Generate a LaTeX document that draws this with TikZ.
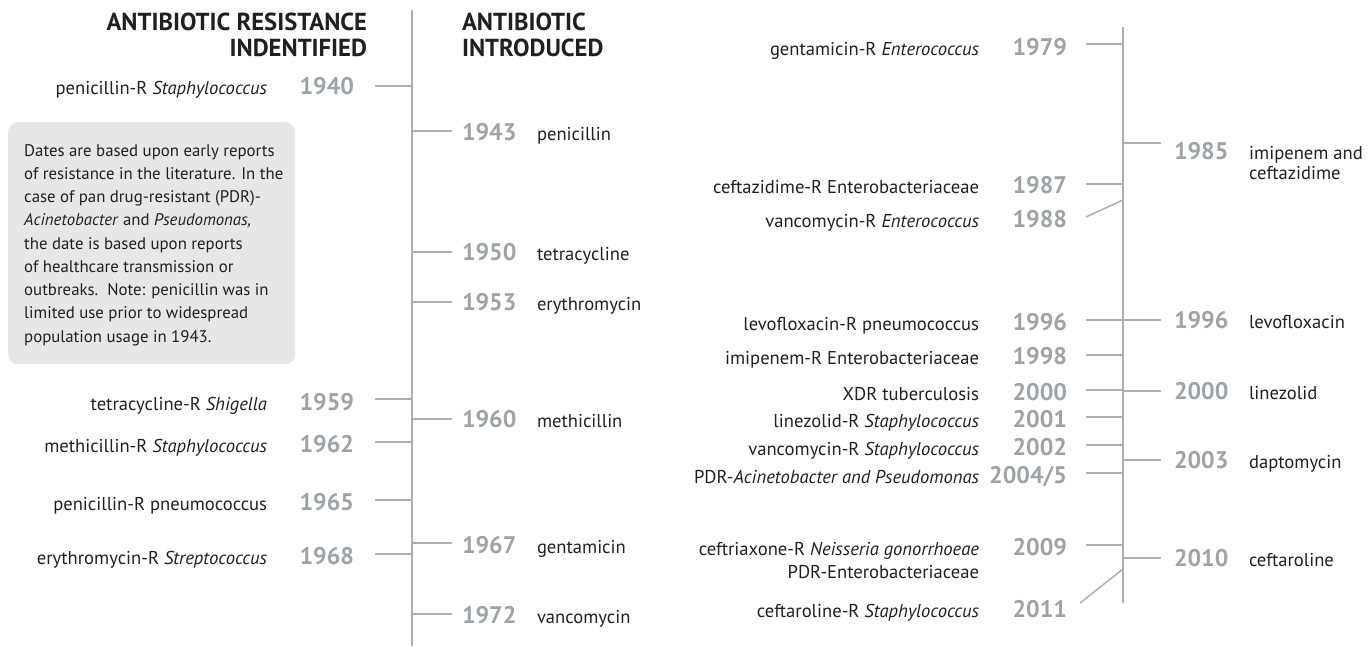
\documentclass[tikz,border=0pt]{standalone}
\usepackage{fontspec}
\setmainfont{PT Sans}
\definecolor{ink}{RGB}{35,31,32}
\definecolor{axgrey}{RGB}{168,175,183}
\definecolor{yrgrey}{RGB}{158,163,168}
\definecolor{notebg}{RGB}{229,231,233}
\tikzset{
  lbl/.style={font=\fontsize{18.6}{21}\selectfont, text=ink, inner sep=0pt, outer sep=0pt},
  yr/.style={font=\fontsize{24}{26}\selectfont\bfseries, text=yrgrey, inner sep=0pt, outer sep=0pt},
  head/.style={font=\fontsize{24.6}{26}\selectfont\bfseries, text=ink, inner sep=0pt, outer sep=0pt},
  axis/.style={draw=axgrey, line width=1.5pt},
  tickln/.style={draw=axgrey, line width=1.5pt},
}
\begin{document}
\begin{tikzpicture}[x=1pt,y=-1pt]
\useasboundingbox (0,0) rectangle (1370,646);
% axes
\coordinate (axLt) at (412,10);
\coordinate (axLb) at (412,646);
\coordinate (axRt) at (1123,27);
\coordinate (axRb) at (1123,603);
\draw[axis] (axLt) -- (axLb);
\draw[axis] (axRt) -- (axRb);
% headers
\node[head, anchor=north east, align=right] (hRes) at (367,13) {ANTIBIOTIC RESISTANCE\\INDENTIFIED};
\node[head, anchor=north west, align=left] (hInt) at (462,13) {ANTIBIOTIC\\INTRODUCED};
% note box
\node[fill=notebg, rounded corners=10pt, minimum width=287pt, minimum height=242pt, anchor=north west, inner sep=0pt] (notebox) at (8,122) {};
\node[font=\fontsize{16.8}{23.25}\selectfont, text=ink, anchor=north west, align=left, inner sep=0pt] (note) at (24,144) {Dates are based upon early reports\\of resistance in the literature. In the\\case of pan drug-resistant (PDR)-\\\textit{Acinetobacter} and \textit{Pseudomonas,}\\the date is based upon reports\\of healthcare transmission or\\outbreaks.\ \ Note: penicillin was in\\limited use prior to widespread\\population usage in 1943.};
% ---------- left column: resistance ----------
\foreach \yr/\bl/\ty/\txt in {
  1940/94/86/{penicillin-R \textit{Staphylococcus}},
  1959/410/399/{tetracycline-R \textit{Shigella}},
  1962/452/442/{methicillin-R \textit{Staphylococcus}},
  1965/510/500/{penicillin-R pneumococcus},
  1968/564/554/{erythromycin-R \textit{Streptococcus}}}{
  \node[yr, anchor=base east] (yL\yr) at (354,\bl) {\yr};
  \node[lbl, anchor=base east] (tL\yr) at (267,\bl) {\txt};
  \coordinate (cL\yr) at (375,\ty);
  \draw[tickln] (cL\yr) -- (cL\yr -| axLt);
}
% ---------- middle column: introduced ----------
\foreach \yr/\bl/\ty/\txt in {
  1943/140/131/penicillin,
  1950/260/252/tetracycline,
  1953/310/302/erythromycin,
  1960/427/419/methicillin,
  1967/553/543/gentamicin,
  1972/623/614/vancomycin}{
  \node[yr, anchor=base west] (yM\yr) at (462,\bl) {\yr};
  \node[lbl, anchor=base west] (tM\yr) at (537,\bl) {\txt};
  \coordinate (cM\yr) at (452,\ty);
  \draw[tickln] (cM\yr -| axLt) -- (cM\yr);
}
% ---------- right axis, left side: resistance ----------
\foreach \yr/\bl/\ty/\txt in {
  1979/55/44/{gentamicin-R \textit{Enterococcus}},
  1987/193/184/{ceftazidime-R Enterobacteriaceae},
  1996/330/320/{levofloxacin-R pneumococcus},
  1998/364/355/{imipenem-R Enterobacteriaceae},
  2000/400/390/{XDR tuberculosis},
  2001/427/417/{linezolid-R \textit{Staphylococcus}},
  2002/455/445/{vancomycin-R \textit{Staphylococcus}},
  2004/483/473/{PDR-\textit{Acinetobacter and Pseudomonas}},
  2009/555/545/{ceftriaxone-R \textit{Neisseria gonorrhoeae}}}{
  \coordinate (cR\yr) at (1086,\ty);
  \draw[tickln] (cR\yr) -- (cR\yr -| axRt);
  \node[lbl, anchor=base east] (tR\yr) at (979,\bl) {\txt};
}
\foreach \yr/\bl in {1979/55,1987/193,1996/330,1998/364,2000/400,2001/427,2002/455,2009/555}{
  \node[yr, anchor=base east] (yR\yr) at (1067,\bl) {\yr};
}
\node[yr, anchor=base east] (yR2004) at (1067,483) {2004/5};
\node[lbl, anchor=base east] (tR2009b) at (979,578) {PDR-Enterobacteriaceae};
% slanted ticks
\node[yr, anchor=base east] (yR1988) at (1067,227) {1988};
\node[lbl, anchor=base east] (tR1988) at (979,227) {vancomycin-R \textit{Enterococcus}};
\coordinate (s1988a) at (1086,217);
\coordinate (s1988b) at (1123,200);
\draw[tickln] (s1988a) -- (s1988b);
\node[yr, anchor=base east] (yR2011) at (1067,617) {2011};
\node[lbl, anchor=base east] (tR2011) at (979,617) {ceftaroline-R \textit{Staphylococcus}};
\coordinate (s2011a) at (1080,603);
\coordinate (s2011b) at (1123,569);
\draw[tickln] (s2011a) -- (s2011b);
% ---------- right axis, right side: introduced ----------
\foreach \yr/\bl/\ty/\txt in {
  1996/328/320/levofloxacin,
  2000/399/391/linezolid,
  2003/468/460/daptomycin,
  2010/566/558/ceftaroline}{
  \node[yr, anchor=base west] (yI\yr) at (1174,\bl) {\yr};
  \node[lbl, anchor=base west] (tI\yr) at (1249,\bl) {\txt};
  \coordinate (cI\yr) at (1161,\ty);
  \draw[tickln] (cI\yr -| axRt) -- (cI\yr);
}
\node[yr, anchor=base west] (yI1985) at (1174,159) {1985};
\node[font=\fontsize{18.6}{20}\selectfont, text=ink, inner sep=0pt, anchor=north west, align=left] (tI1985) at (1249,146) {imipenem and\\ceftazidime};
\coordinate (cI1985) at (1161,143);
\draw[tickln] (cI1985 -| axRt) -- (cI1985);
\end{tikzpicture}
\end{document}
